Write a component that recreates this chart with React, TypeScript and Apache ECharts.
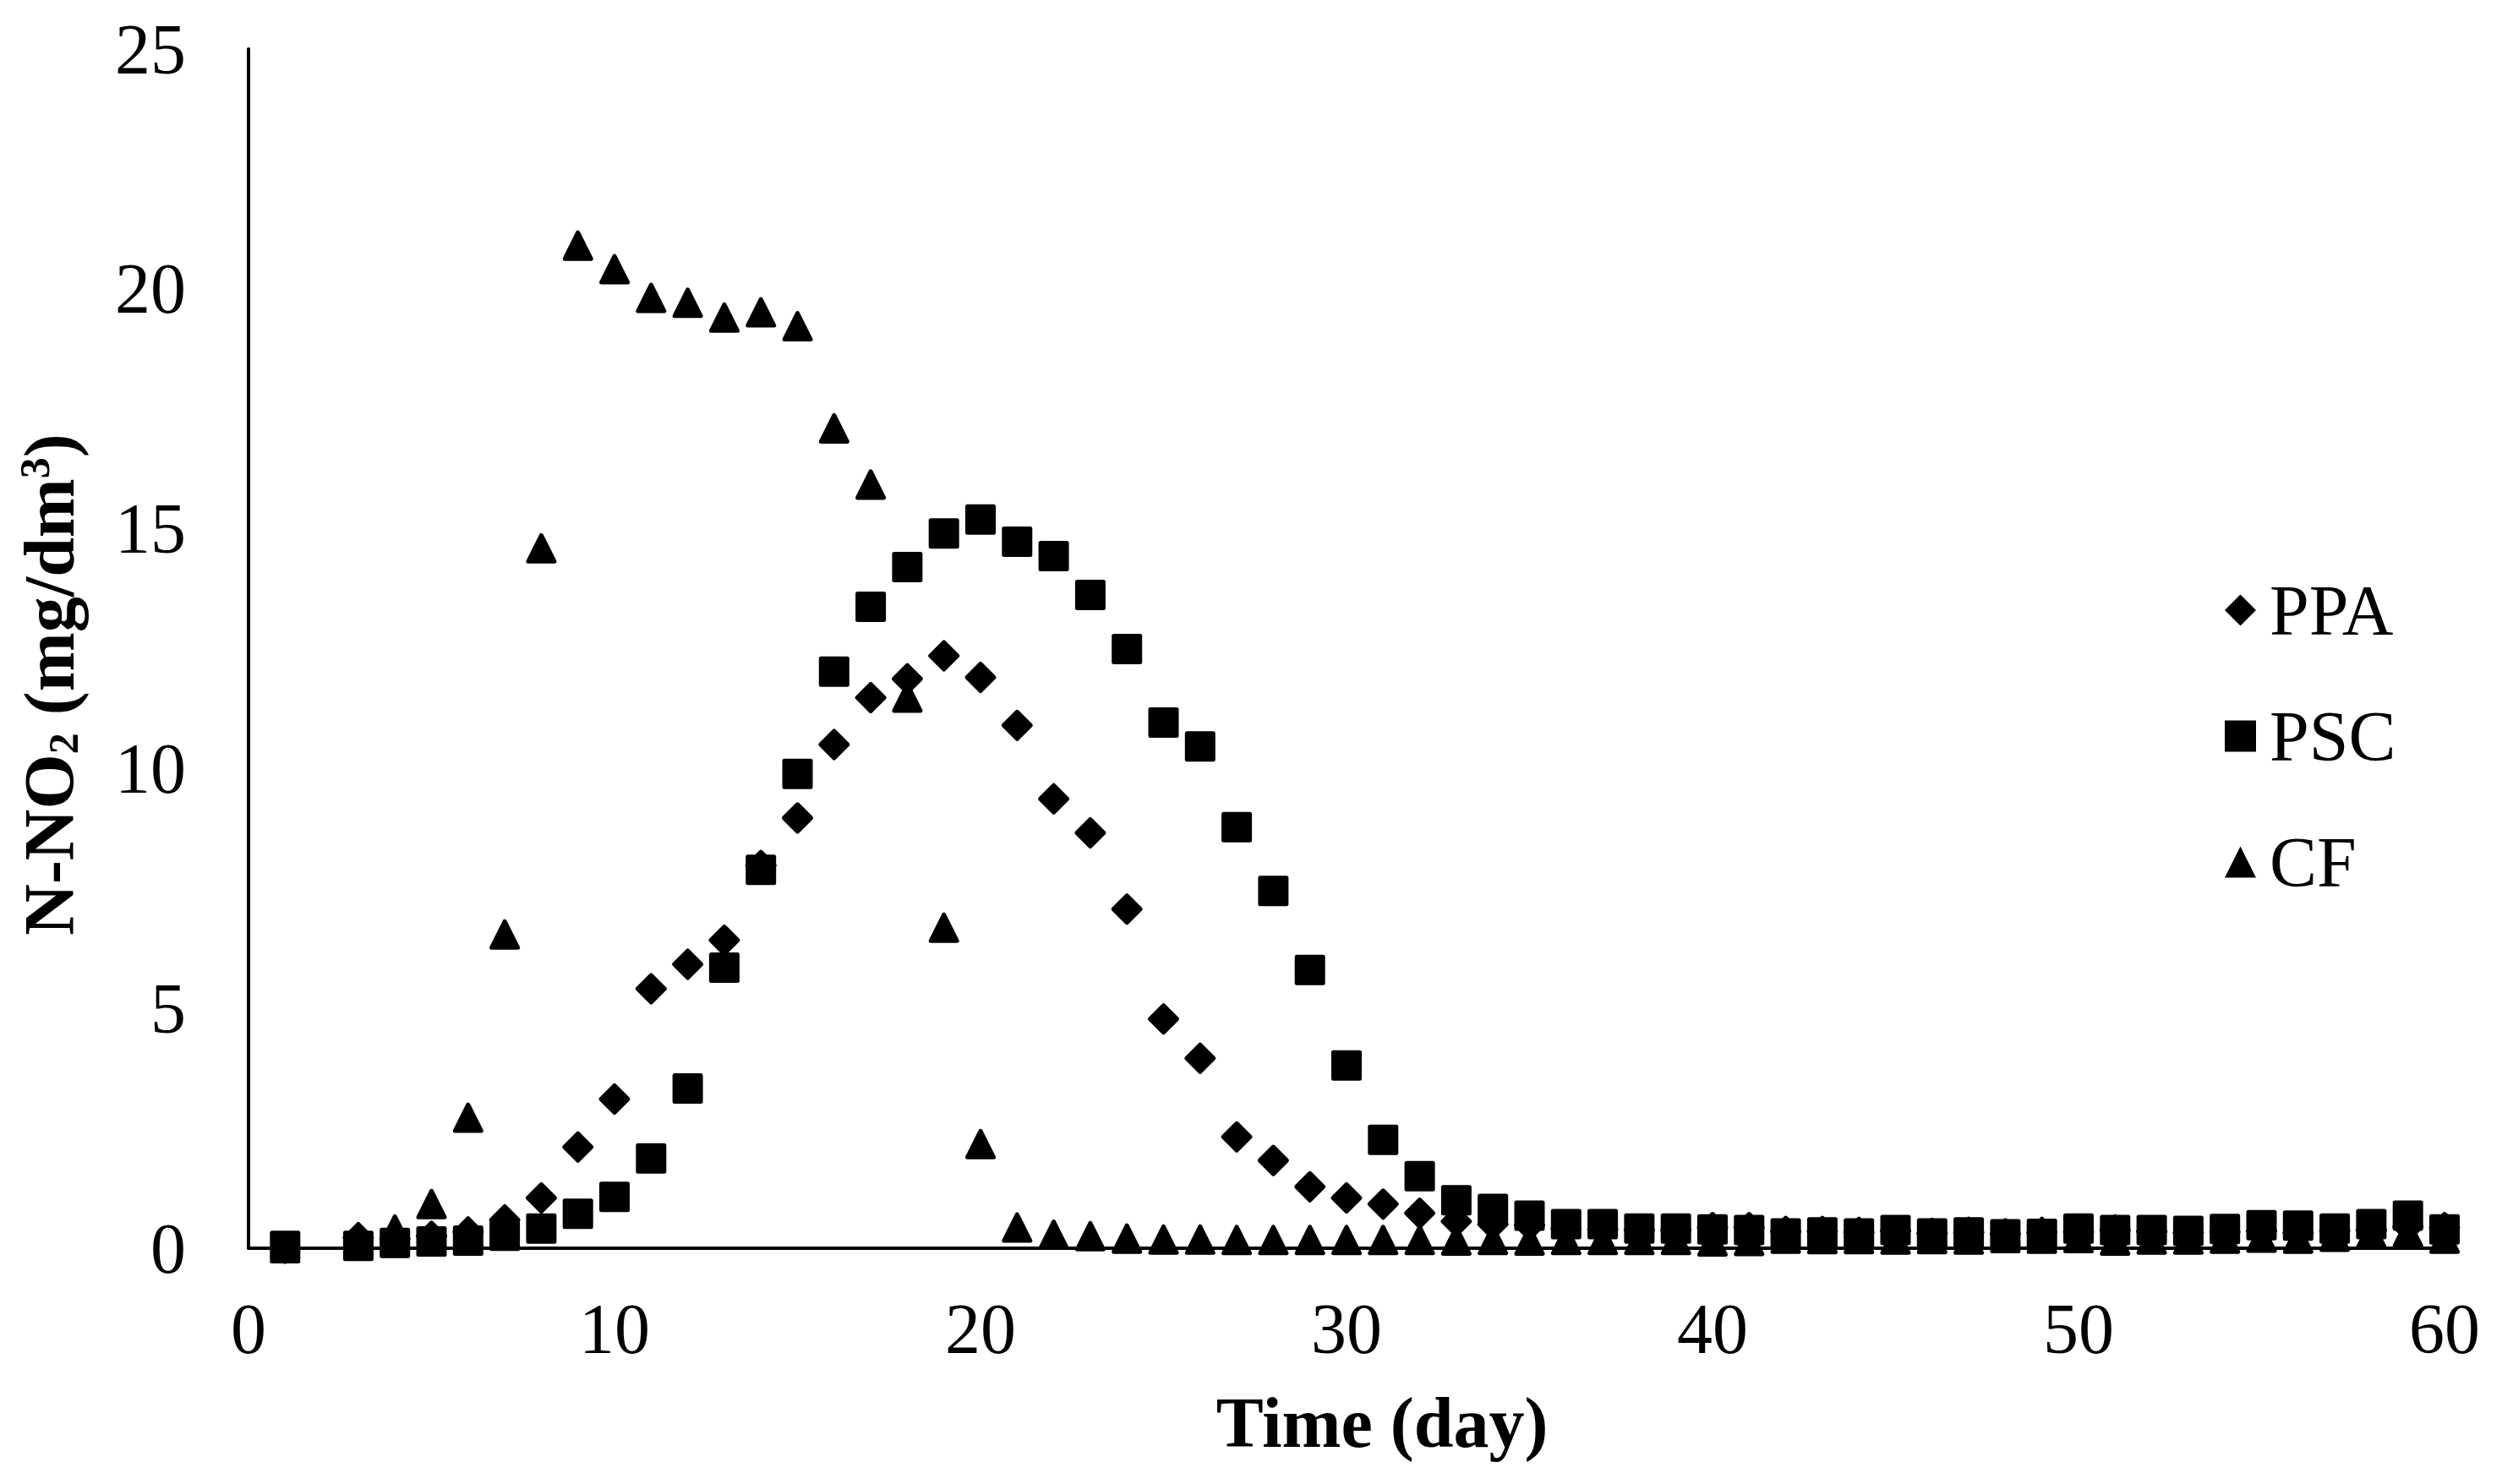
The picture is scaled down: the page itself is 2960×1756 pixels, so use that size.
import React, { useEffect, useRef } from "react";
import * as echarts from "echarts";

const days = [1, 3, 4, 5, 6, 7, 8, 9, 10, 11, 12, 13, 14, 15, 16, 17, 18, 19, 20, 21, 22, 23, 24, 25, 26, 27, 28, 29, 30, 31, 32, 33, 34, 35, 36, 37, 38, 39, 40, 41, 42, 43, 44, 45, 46, 47, 48, 49, 50, 51, 52, 53, 54, 55, 56, 57, 58, 59, 60];

const ppa = [0.0, 0.22, 0.2, 0.25, 0.34, 0.59, 1.05, 2.11, 3.11, 5.41, 5.92, 6.42, 7.98, 8.97, 10.5, 11.48, 11.87, 12.35, 11.9, 10.9, 9.37, 8.66, 7.07, 4.78, 3.96, 2.32, 1.83, 1.28, 1.05, 0.92, 0.73, 0.56, 0.5, 0.48, 0.41, 0.39, 0.38, 0.38, 0.43, 0.43, 0.35, 0.35, 0.33, 0.36, 0.31, 0.33, 0.3, 0.33, 0.34, 0.38, 0.35, 0.32, 0.34, 0.36, 0.32, 0.36, 0.38, 0.45, 0.43];

const psc = [0.05, 0.05, 0.11, 0.14, 0.16, 0.26, 0.41, 0.72, 1.07, 1.87, 3.33, 5.85, 7.89, 9.89, 12.02, 13.37, 14.2, 14.9, 15.19, 14.73, 14.43, 13.62, 12.49, 10.96, 10.46, 8.78, 7.45, 5.8, 3.81, 2.26, 1.5, 1.0, 0.82, 0.68, 0.5, 0.5, 0.41, 0.41, 0.39, 0.38, 0.31, 0.33, 0.31, 0.38, 0.31, 0.33, 0.29, 0.3, 0.41, 0.38, 0.38, 0.36, 0.4, 0.48, 0.47, 0.41, 0.5, 0.68, 0.39];

const cf = [0.0, 0.12, 0.39, 0.92, 2.72, 6.54, 14.59, 20.9, 20.41, 19.81, 19.71, 19.4, 19.51, 19.22, 17.09, 15.92, 11.48, 6.68, 2.17, 0.43, 0.28, 0.25, 0.2, 0.18, 0.18, 0.17, 0.17, 0.17, 0.17, 0.17, 0.17, 0.16, 0.17, 0.16, 0.17, 0.17, 0.17, 0.17, 0.14, 0.15, 0.2, 0.19, 0.19, 0.18, 0.19, 0.18, 0.21, 0.2, 0.21, 0.16, 0.18, 0.18, 0.2, 0.22, 0.2, 0.24, 0.3, 0.33, 0.2];

const seriesNames = ["PPA", "PSC", "CF"];
const xRange = { min: 0, max: 60, interval: 10 };
const yRange = { min: 0, max: 25, interval: 5 };

const FONT = "'Liberation Serif', 'Times New Roman', serif";

export default function App() {
  const ref = useRef<HTMLDivElement>(null);

  useEffect(() => {
    if (!ref.current) return;
    const chart = echarts.init(ref.current, undefined, { renderer: "svg" });
    const mk = (vals: number[]) => days.map((d, i) => [d, vals[i]]);
    const marker = {
      color: "#000",
      borderColor: "#000",
      borderWidth: 5,
      borderJoin: "round",
      opacity: 1,
    };
    chart.setOption({
      animation: false,
      backgroundColor: "#fff",
      grid: { left: 294, right: 68, top: 58, bottom: 279, containLabel: false },
      xAxis: {
        type: "value",
        min: xRange.min,
        max: xRange.max,
        interval: xRange.interval,
        axisLine: { show: true, lineStyle: { color: "#000", width: 4 } },
        axisTick: { show: false },
        splitLine: { show: false },
        axisLabel: { fontSize: 84, fontFamily: FONT, color: "#000", margin: 53 },
      },
      yAxis: {
        type: "value",
        min: yRange.min,
        max: yRange.max,
        interval: yRange.interval,
        axisLine: { show: true, lineStyle: { color: "#000", width: 4 } },
        axisTick: { show: false },
        splitLine: { show: false },
        axisLabel: { fontSize: 84, fontFamily: FONT, color: "#000", margin: 74 },
      },
      legend: {
        orient: "vertical",
        left: 2627,
        top: 675,
        itemWidth: 37,
        itemHeight: 37,
        itemGap: 65,
        data: seriesNames,
        itemStyle: { color: "#000", borderWidth: 0, opacity: 1 },
        textStyle: {
          fontSize: 84,
          lineHeight: 84,
          fontFamily: FONT,
          color: "#000",
          padding: [0, 0, 0, 11],
        },
      },
      series: [
        { name: seriesNames[0], type: "scatter", data: mk(ppa), symbol: "diamond", symbolSize: 32, itemStyle: marker },
        { name: seriesNames[1], type: "scatter", data: mk(psc), symbol: "rect", symbolSize: 31, itemStyle: marker },
        { name: seriesNames[2], type: "scatter", data: mk(cf), symbol: "triangle", symbolSize: 31, itemStyle: marker },
      ],
      graphic: [
        {
          type: "text",
          x: 1635,
          y: 1683,
          style: {
            text: "Time (day)",
            fontSize: 84,
            fontWeight: "bold",
            fontFamily: FONT,
            fill: "#000",
            align: "center",
            verticalAlign: "middle",
          },
        },
        {
          type: "text",
          x: 58,
          y: 810,
          rotation: Math.PI / 2,
          style: {
            text: "{a|N-NO}{b|2}{a| (mg/dm}{c|3}{a|)}",
            fill: "#000",
            fontSize: 84,
            fontWeight: "bold",
            fontFamily: FONT,
            align: "center",
            verticalAlign: "middle",
            rich: {
              a: { fontSize: 84, lineHeight: 84, fontWeight: "bold", fontFamily: FONT, fill: "#000" },
              b: { fontSize: 50, lineHeight: 12, fontWeight: "bold", fontFamily: FONT, fill: "#000", verticalAlign: "bottom" },
              c: { fontSize: 50, lineHeight: 50, fontWeight: "bold", fontFamily: FONT, fill: "#000", verticalAlign: "top" },
            },
          },
        },
      ],
    });
    return () => chart.dispose();
  }, []);

  return (
    <div
      ref={ref}
      style={{ position: "fixed", left: 0, top: 0, width: 2960, height: 1756, background: "#fff" }}
    />
  );
}
